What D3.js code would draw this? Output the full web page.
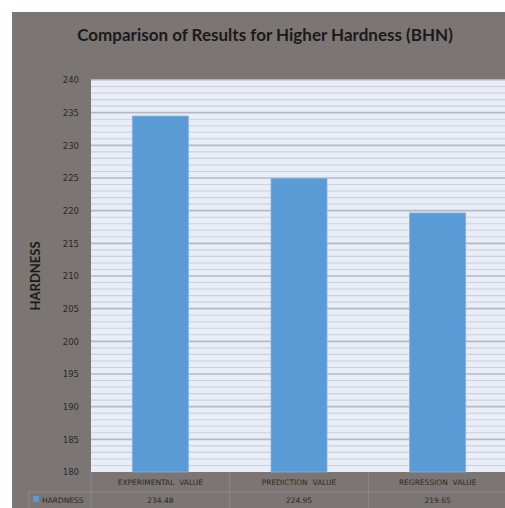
<!DOCTYPE html>
<html>
<head>
<meta charset="utf-8">
<script src="https://cdn.jsdelivr.net/npm/d3@7"></script>
<style>
  html, body { margin: 0; padding: 0; background: #ffffff; }
  svg { display: block; }
</style>
</head>
<body>
<svg id="chart" width="505" height="508"></svg>
<script>
// Chart data
const categories = ["EXPERIMENTAL  VALUE", "PREDICTION  VALUE", "REGRESSION  VALUE"];
const hardness = [234.48, 224.95, 219.65];
const seriesName = "HARDNESS";
const valueLabels = ["234.48", "224.95", "219.65"];
const yTicks = [180, 185, 190, 195, 200, 205, 210, 215, 220, 225, 230, 235, 240];

const svg = d3.select("#chart");
const W = 505, H = 508;

// Panel background
svg.append("rect").attr("x", 12).attr("y", 12).attr("width", W - 12).attr("height", H - 12)
  .attr("fill", "#7b7573");

const plot = { left: 91, right: 507, top: 80, bottom: 472 };

const x = d3.scaleBand().domain(categories).range([plot.left, plot.right]).paddingInner(0).paddingOuter(0);
const y = d3.scaleLinear().domain([180, 240]).range([plot.bottom, plot.top]);

// Plot area background
svg.append("rect").attr("x", plot.left).attr("y", plot.top)
  .attr("width", plot.right - plot.left).attr("height", plot.bottom - plot.top)
  .attr("fill", "#e9edf6");

// Minor gridlines every unit, major every 5
const minor = d3.range(181, 240);
svg.append("g").selectAll("line").data(minor).join("line")
  .attr("x1", plot.left).attr("x2", plot.right)
  .attr("y1", d => y(d)).attr("y2", d => y(d))
  .attr("stroke", d => d % 5 === 0 ? "#b6b9c1" : "#cdd0d8")
  .attr("stroke-width", d => d % 5 === 0 ? 1.6 : 1.1);
svg.append("line").attr("x1", plot.left).attr("x2", plot.right)
  .attr("y1", y(240)).attr("y2", y(240)).attr("stroke", "#c4c7cf").attr("stroke-width", 1.5);

// Y axis tick labels
const yAxis = d3.axisLeft(y).tickValues(yTicks).tickSize(0).tickPadding(12);
const yg = svg.append("g").attr("transform", `translate(${plot.left},0)`).call(yAxis);
yg.select(".domain").remove();
yg.selectAll("text").attr("font-family", "DejaVu Sans, sans-serif").attr("font-size", 8.5)
  .attr("fill", "#2a2a2a");

// Bars
const barW = 56;
svg.append("g").selectAll("rect").data(hardness).join("rect")
  .attr("x", (d, i) => x(categories[i]) + x.bandwidth() / 2 - barW / 2)
  .attr("width", barW)
  .attr("y", d => y(d))
  .attr("height", d => y(180) - y(d))
  .attr("fill", "#5b9bd5")
  .attr("stroke", "#7fb2e0").attr("stroke-width", 0.8);

// Data table beneath the plot
const row1 = { top: plot.bottom, bottom: 492 };
const row2 = { top: 492, bottom: 508 };
const gridCol = "#8e8987";
const tbl = svg.append("g");
tbl.append("line").attr("x1", 29).attr("x2", W).attr("y1", row2.top).attr("y2", row2.top)
  .attr("stroke", gridCol).attr("stroke-width", 1);
tbl.append("line").attr("x1", 29).attr("x2", 29).attr("y1", row2.top).attr("y2", H)
  .attr("stroke", gridCol).attr("stroke-width", 1);
tbl.append("line").attr("x1", plot.left).attr("x2", plot.left).attr("y1", row1.top).attr("y2", H)
  .attr("stroke", gridCol).attr("stroke-width", 1);
tbl.selectAll(".sep").data(categories.slice(1)).join("line").attr("class", "sep")
  .attr("x1", d => x(d)).attr("x2", d => x(d)).attr("y1", row1.top).attr("y2", H)
  .attr("stroke", gridCol).attr("stroke-width", 1);

tbl.selectAll(".cat").data(categories).join("text").attr("class", "cat")
  .attr("x", d => x(d) + x.bandwidth() / 2).attr("y", (row1.top + row1.bottom) / 2 + 3)
  .attr("text-anchor", "middle").attr("font-family", "DejaVu Sans, sans-serif")
  .attr("font-size", 7.5).attr("fill", "#2a2a2a").style("white-space", "pre")
  .text(d => d);

tbl.selectAll(".val").data(valueLabels).join("text").attr("class", "val")
  .attr("x", (d, i) => x(categories[i]) + x.bandwidth() / 2).attr("y", (row2.top + row2.bottom) / 2 + 3)
  .attr("text-anchor", "middle").attr("font-family", "DejaVu Sans, sans-serif")
  .attr("font-size", 7.5).attr("fill", "#2a2a2a")
  .text(d => d);

// Legend key in the table
tbl.append("rect").attr("x", 33).attr("y", 496).attr("width", 6).attr("height", 6).attr("fill", "#5b9bd5");
tbl.append("text").attr("x", 42).attr("y", 502.5).attr("font-family", "DejaVu Sans, sans-serif")
  .attr("font-size", 7.5).attr("fill", "#2a2a2a").text(seriesName);

// Title
svg.append("text").attr("x", 265).attr("y", 41).attr("text-anchor", "middle")
  .attr("font-family", "Lato, sans-serif").attr("font-weight", "bold").attr("font-size", 17)
  .attr("fill", "#1a1a1a").text("Comparison of Results for Higher Hardness (BHN)");

// Y axis title
svg.append("text").attr("transform", `translate(40,276) rotate(-90)`)
  .attr("text-anchor", "middle").attr("font-family", "Lato, sans-serif").attr("font-weight", "bold")
  .attr("font-size", 13).attr("fill", "#1a1a1a").text("HARDNESS");
</script>
</body>
</html>
